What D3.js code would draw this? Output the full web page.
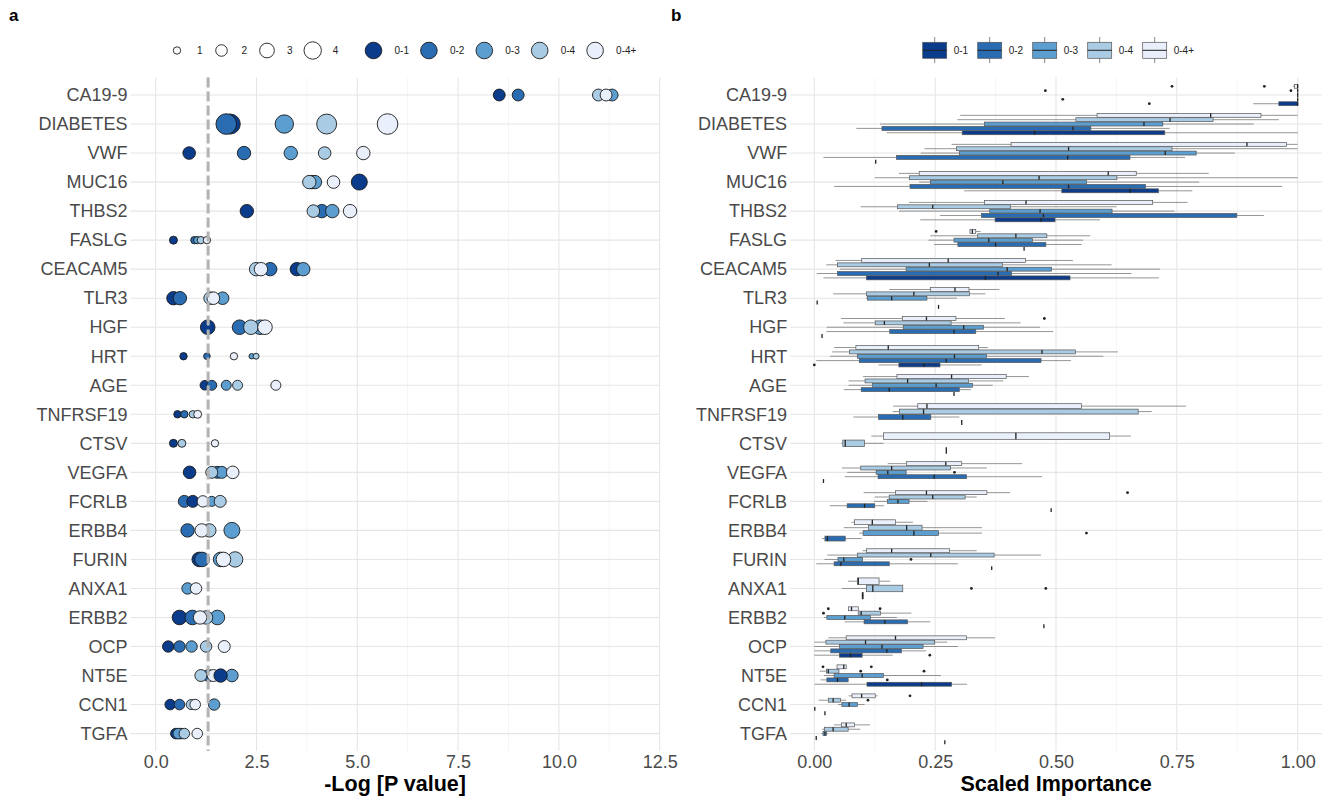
<!DOCTYPE html>
<html>
<head>
<meta charset="utf-8">
<script src="https://cdnjs.cloudflare.com/ajax/libs/d3/7.8.5/d3.min.js"></script>
<style>
  body { margin: 0; background: #fff; }
  svg { font-family: "Liberation Sans", Arial, sans-serif; }
</style>
</head>
<body>
<script>
"use strict";

// ---- data ----
const genes = ["CA19-9", "DIABETES", "VWF", "MUC16", "THBS2", "FASLG", "CEACAM5", "TLR3", "HGF", "HRT",
  "AGE", "TNFRSF19", "CTSV", "VEGFA", "FCRLB", "ERBB4", "FURIN", "ANXA1", "ERBB2", "OCP", "NT5E", "CCN1", "TGFA"];
const groups = ["0-1", "0-2", "0-3", "0-4", "0-4+"];
const groupColors = ["#0b3c8b", "#2a6cb2", "#5b9ecf", "#a9cbe3", "#e9effb"];
const sizeBreaks = [1, 2, 3, 4];
const pTicks = [0, 2.5, 5, 7.5, 10, 12.5];
const impTicks = [0, 0.25, 0.5, 0.75, 1];
const pCutoff = 1.301; // -log10(0.05)

// panel a: gene, group, -log p, point size
const pointRows = [
  ["CA19-9", "0-1", 8.52, 2.1], ["CA19-9", "0-2", 8.99, 2.1], ["CA19-9", "0-3", 11.32, 2.1], ["CA19-9", "0-4", 10.98, 2.1], ["CA19-9", "0-4+", 11.17, 2.1],
  ["DIABETES", "0-1", 1.85, 5.1], ["DIABETES", "0-2", 1.75, 5.4], ["DIABETES", "0-3", 3.19, 4.4], ["DIABETES", "0-4", 4.24, 5.1], ["DIABETES", "0-4+", 5.75, 5.4],
  ["VWF", "0-1", 0.83, 2.3], ["VWF", "0-2", 2.19, 2.56], ["VWF", "0-3", 3.35, 2.56], ["VWF", "0-4", 4.19, 2.3], ["VWF", "0-4+", 5.15, 2.56],
  ["MUC16", "0-1", 5.05, 3.46], ["MUC16", "0-2", 3.87, 2.56], ["MUC16", "0-3", 3.95, 2.56], ["MUC16", "0-4", 3.81, 2.56], ["MUC16", "0-4+", 4.41, 2.31],
  ["THBS2", "0-1", 2.26, 2.56], ["THBS2", "0-2", 4.12, 2.56], ["THBS2", "0-3", 4.38, 2.56], ["THBS2", "0-4", 3.91, 2.31], ["THBS2", "0-4+", 4.82, 2.56],
  ["FASLG", "0-1", 0.44, 1.12], ["FASLG", "0-2", 0.96, 1.0], ["FASLG", "0-3", 1.03, 1.0], ["FASLG", "0-4", 1.12, 1.0], ["FASLG", "0-4+", 1.27, 1.0],
  ["CEACAM5", "0-1", 3.50, 2.56], ["CEACAM5", "0-2", 2.84, 2.56], ["CEACAM5", "0-3", 3.66, 2.56], ["CEACAM5", "0-4", 2.49, 2.56], ["CEACAM5", "0-4+", 2.61, 2.56],
  ["TLR3", "0-1", 0.44, 2.56], ["TLR3", "0-2", 0.60, 2.56], ["TLR3", "0-3", 1.66, 2.31], ["TLR3", "0-4", 1.35, 2.31], ["TLR3", "0-4+", 1.43, 2.31],
  ["HGF", "0-1", 1.29, 2.96], ["HGF", "0-2", 2.08, 2.96], ["HGF", "0-3", 2.59, 2.96], ["HGF", "0-4", 2.36, 2.96], ["HGF", "0-4+", 2.71, 2.96],
  ["HRT", "0-1", 0.69, 1.0], ["HRT", "0-2", 1.27, 0.85], ["HRT", "0-3", 2.38, 0.64], ["HRT", "0-4", 2.49, 0.74], ["HRT", "0-4+", 1.94, 1.0],
  ["AGE", "0-1", 1.22, 1.5], ["AGE", "0-2", 1.39, 1.59], ["AGE", "0-3", 1.75, 1.59], ["AGE", "0-4", 2.03, 1.59], ["AGE", "0-4+", 2.98, 1.59],
  ["TNFRSF19", "0-1", 0.54, 1.0], ["TNFRSF19", "0-2", 0.71, 1.0], ["TNFRSF19", "0-4", 0.92, 1.0], ["TNFRSF19", "0-4+", 1.04, 1.12],
  ["CTSV", "0-1", 0.44, 1.12], ["CTSV", "0-4", 0.65, 1.12], ["CTSV", "0-4+", 1.47, 1.0],
  ["VEGFA", "0-1", 0.84, 2.31], ["VEGFA", "0-2", 1.53, 2.13], ["VEGFA", "0-3", 1.64, 2.13], ["VEGFA", "0-4", 1.39, 2.13], ["VEGFA", "0-4+", 1.91, 2.31],
  ["FCRLB", "0-2", 0.71, 2.13], ["FCRLB", "0-1", 0.92, 2.13], ["FCRLB", "0-3", 1.39, 1.59], ["FCRLB", "0-4", 1.60, 2.13], ["FCRLB", "0-4+", 1.17, 1.96],
  ["ERBB4", "0-2", 0.79, 2.56], ["ERBB4", "0-3", 1.89, 3.46], ["ERBB4", "0-4", 1.33, 2.56], ["ERBB4", "0-4+", 1.14, 2.56],
  ["FURIN", "0-1", 1.08, 2.96], ["FURIN", "0-2", 1.15, 2.96], ["FURIN", "0-3", 1.61, 2.96], ["FURIN", "0-4", 1.97, 3.24], ["FURIN", "0-4+", 1.68, 2.96],
  ["ANXA1", "0-3", 0.79, 1.96], ["ANXA1", "0-4+", 1.00, 1.96],
  ["ERBB2", "0-1", 0.59, 2.96], ["ERBB2", "0-2", 0.91, 2.96], ["ERBB2", "0-3", 1.53, 2.96], ["ERBB2", "0-4", 1.25, 2.56], ["ERBB2", "0-4+", 1.10, 2.56],
  ["OCP", "0-1", 0.31, 1.96], ["OCP", "0-2", 0.59, 1.96], ["OCP", "0-3", 0.89, 1.96], ["OCP", "0-4", 1.25, 1.96], ["OCP", "0-4+", 1.70, 2.13],
  ["NT5E", "0-2", 1.31, 2.13], ["NT5E", "0-3", 1.89, 2.31], ["NT5E", "0-4", 1.12, 2.13], ["NT5E", "0-4+", 1.43, 2.13], ["NT5E", "0-1", 1.61, 2.56],
  ["CCN1", "0-1", 0.36, 1.74], ["CCN1", "0-2", 0.59, 1.74], ["CCN1", "0-3", 1.45, 1.96], ["CCN1", "0-4", 0.88, 1.59], ["CCN1", "0-4+", 0.98, 1.74],
  ["TGFA", "0-1", 0.50, 1.74], ["TGFA", "0-2", 0.62, 1.74], ["TGFA", "0-3", 0.56, 1.74], ["TGFA", "0-4", 0.71, 1.74], ["TGFA", "0-4+", 1.03, 1.74]
];

// panel b: gene, group, lower whisker, q1, median, q3, upper whisker, outliers
const boxRows = [
  ["CA19-9", "0-1", 0.908, 0.961, 1.0, 1.0, 1.0, [0.693]],
  ["CA19-9", "0-2", 1, 1, 1, 1, 1, [0.514]],
  ["CA19-9", "0-3", 1, 1, 1, 1, 1, []],
  ["CA19-9", "0-4", 1, 1, 1, 1, 1, [0.478, 0.986]],
  ["CA19-9", "0-4+", 0.99, 0.993, 1.0, 1.0, 1.0, [0.740, 0.931]],
  ["DIABETES", "0-1", 0.150, 0.306, 0.456, 0.725, 1.0, []],
  ["DIABETES", "0-2", 0.087, 0.140, 0.535, 0.572, 0.735, []],
  ["DIABETES", "0-3", 0.136, 0.352, 0.682, 0.721, 0.909, []],
  ["DIABETES", "0-4", 0.296, 0.541, 0.736, 0.825, 0.961, []],
  ["DIABETES", "0-4+", 0.302, 0.585, 0.820, 0.924, 1.0, []],
  ["VWF", "0-1", 0.127, 0.127, 0.127, 0.127, 0.127, []],
  ["VWF", "0-2", 0.019, 0.170, 0.524, 0.653, 0.767, []],
  ["VWF", "0-3", 0.220, 0.300, 0.726, 0.790, 0.870, []],
  ["VWF", "0-4", 0.228, 0.294, 0.526, 0.740, 1.0, []],
  ["VWF", "0-4+", 0.284, 0.407, 0.895, 0.977, 1.0, []],
  ["MUC16", "0-1", 0.310, 0.512, 0.653, 0.712, 0.782, []],
  ["MUC16", "0-2", 0.041, 0.198, 0.526, 0.685, 0.968, []],
  ["MUC16", "0-3", 0.217, 0.240, 0.390, 0.563, 0.796, []],
  ["MUC16", "0-4", 0.125, 0.197, 0.465, 0.626, 1.0, []],
  ["MUC16", "0-4+", 0.175, 0.217, 0.608, 0.666, 0.816, []],
  ["THBS2", "0-1", 0.219, 0.374, 0.469, 0.498, 0.591, []],
  ["THBS2", "0-2", 0.260, 0.346, 0.474, 0.874, 0.930, []],
  ["THBS2", "0-3", 0.175, 0.363, 0.467, 0.616, 0.745, []],
  ["THBS2", "0-4", 0.096, 0.172, 0.245, 0.406, 0.625, []],
  ["THBS2", "0-4+", 0.196, 0.352, 0.438, 0.700, 0.772, []],
  ["FASLG", "0-1", 0.434, 0.434, 0.434, 0.434, 0.434, []],
  ["FASLG", "0-2", 0.248, 0.297, 0.375, 0.479, 0.553, []],
  ["FASLG", "0-3", 0.236, 0.289, 0.361, 0.451, 0.556, []],
  ["FASLG", "0-4", 0.240, 0.338, 0.417, 0.481, 0.571, []],
  ["FASLG", "0-4+", 0.322, 0.322, 0.327, 0.334, 0.344, [0.252]],
  ["CEACAM5", "0-1", 0.019, 0.108, 0.354, 0.529, 0.713, []],
  ["CEACAM5", "0-2", 0.005, 0.048, 0.380, 0.408, 0.656, []],
  ["CEACAM5", "0-3", 0.053, 0.190, 0.399, 0.491, 0.715, []],
  ["CEACAM5", "0-4", 0.025, 0.048, 0.238, 0.389, 0.615, []],
  ["CEACAM5", "0-4+", 0.044, 0.098, 0.277, 0.437, 0.535, []],
  ["TLR3", "0-1", 0.257, 0.257, 0.257, 0.257, 0.257, []],
  ["TLR3", "0-2", 0.006, 0.006, 0.006, 0.006, 0.006, []],
  ["TLR3", "0-3", 0.107, 0.110, 0.160, 0.233, 0.295, []],
  ["TLR3", "0-4", 0.039, 0.108, 0.206, 0.321, 0.354, []],
  ["TLR3", "0-4+", 0.155, 0.240, 0.291, 0.320, 0.383, []],
  ["HGF", "0-1", 0.016, 0.016, 0.016, 0.016, 0.016, []],
  ["HGF", "0-2", 0.025, 0.156, 0.289, 0.334, 0.494, []],
  ["HGF", "0-3", 0.026, 0.184, 0.309, 0.350, 0.467, []],
  ["HGF", "0-4", 0.060, 0.126, 0.145, 0.283, 0.427, []],
  ["HGF", "0-4+", 0.055, 0.182, 0.232, 0.293, 0.394, [0.476]],
  ["HRT", "0-1", 0.133, 0.175, 0.227, 0.260, 0.346, [0.0]],
  ["HRT", "0-2", 0.004, 0.093, 0.273, 0.469, 0.531, []],
  ["HRT", "0-3", 0.032, 0.089, 0.290, 0.356, 0.598, []],
  ["HRT", "0-4", 0.037, 0.073, 0.471, 0.540, 0.628, []],
  ["HRT", "0-4+", 0.041, 0.086, 0.153, 0.340, 0.359, []],
  ["AGE", "0-1", 0.289, 0.289, 0.289, 0.289, 0.289, []],
  ["AGE", "0-2", 0.061, 0.097, 0.155, 0.300, 0.324, []],
  ["AGE", "0-3", 0.071, 0.120, 0.252, 0.327, 0.369, []],
  ["AGE", "0-4", 0.071, 0.105, 0.193, 0.319, 0.391, []],
  ["AGE", "0-4+", 0.101, 0.171, 0.284, 0.397, 0.444, []],
  ["TNFRSF19", "0-1", 0.305, 0.305, 0.305, 0.305, 0.305, []],
  ["TNFRSF19", "0-2", 0.081, 0.133, 0.183, 0.241, 0.300, []],
  ["TNFRSF19", "0-4", 0.162, 0.176, 0.226, 0.670, 0.698, []],
  ["TNFRSF19", "0-4+", 0.163, 0.214, 0.233, 0.553, 0.769, []],
  ["CTSV", "0-1", 0.273, 0.273, 0.273, 0.273, 0.273, []],
  ["CTSV", "0-4", 0.056, 0.059, 0.064, 0.104, 0.143, []],
  ["CTSV", "0-4+", 0.118, 0.143, 0.417, 0.611, 0.655, []],
  ["VEGFA", "0-1", 0.019, 0.019, 0.019, 0.019, 0.019, []],
  ["VEGFA", "0-2", 0.063, 0.132, 0.248, 0.315, 0.471, []],
  ["VEGFA", "0-3", 0.068, 0.128, 0.152, 0.190, 0.190, [0.290]],
  ["VEGFA", "0-4", 0.057, 0.096, 0.160, 0.282, 0.357, []],
  ["VEGFA", "0-4+", 0.152, 0.191, 0.272, 0.305, 0.430, []],
  ["FCRLB", "0-1", 0.490, 0.490, 0.490, 0.490, 0.490, []],
  ["FCRLB", "0-2", 0.032, 0.068, 0.104, 0.125, 0.144, []],
  ["FCRLB", "0-3", 0.123, 0.151, 0.173, 0.196, 0.234, []],
  ["FCRLB", "0-4", 0.125, 0.155, 0.245, 0.312, 0.336, []],
  ["FCRLB", "0-4+", 0.102, 0.168, 0.232, 0.357, 0.405, [0.648]],
  ["ERBB4", "0-2", 0.016, 0.022, 0.027, 0.064, 0.098, []],
  ["ERBB4", "0-3", 0.093, 0.101, 0.206, 0.257, 0.347, [0.563]],
  ["ERBB4", "0-4", 0.061, 0.112, 0.191, 0.223, 0.347, []],
  ["ERBB4", "0-4+", 0.077, 0.083, 0.120, 0.168, 0.204, []],
  ["FURIN", "0-1", 0.367, 0.367, 0.367, 0.367, 0.367, []],
  ["FURIN", "0-2", 0.004, 0.041, 0.055, 0.155, 0.297, []],
  ["FURIN", "0-3", 0.021, 0.049, 0.061, 0.100, 0.100, [0.200]],
  ["FURIN", "0-4", 0.027, 0.089, 0.241, 0.372, 0.469, []],
  ["FURIN", "0-4+", 0.100, 0.108, 0.160, 0.280, 0.336, []],
  ["ANXA1", "0-3", 0.098, 0.099, 0.100, 0.101, 0.102, []],
  ["ANXA1", "0-4", 0.057, 0.108, 0.121, 0.183, 0.183, [0.325, 0.479]],
  ["ANXA1", "0-4+", 0.070, 0.089, 0.091, 0.134, 0.157, []],
  ["ERBB2", "0-1", 0.475, 0.475, 0.475, 0.475, 0.475, []],
  ["ERBB2", "0-2", 0.063, 0.103, 0.146, 0.193, 0.240, []],
  ["ERBB2", "0-3", 0.020, 0.026, 0.063, 0.116, 0.171, []],
  ["ERBB2", "0-4", 0.089, 0.092, 0.097, 0.137, 0.201, [0.019]],
  ["ERBB2", "0-4+", 0.071, 0.071, 0.077, 0.091, 0.091, [0.029, 0.136]],
  ["OCP", "0-1", 0.0, 0.052, 0.075, 0.099, 0.162, [0.239]],
  ["OCP", "0-2", 0.0, 0.034, 0.150, 0.180, 0.231, []],
  ["OCP", "0-3", 0.0, 0.052, 0.140, 0.225, 0.297, []],
  ["OCP", "0-4", 0.0, 0.024, 0.106, 0.249, 0.275, []],
  ["OCP", "0-4+", 0.029, 0.066, 0.168, 0.315, 0.374, []],
  ["NT5E", "0-1", 0.001, 0.109, 0.222, 0.284, 0.316, []],
  ["NT5E", "0-2", 0.013, 0.026, 0.048, 0.070, 0.070, [0.151]],
  ["NT5E", "0-3", 0.020, 0.041, 0.099, 0.143, 0.262, []],
  ["NT5E", "0-4", 0.011, 0.025, 0.029, 0.051, 0.051, [0.096, 0.227]],
  ["NT5E", "0-4+", 0.047, 0.047, 0.061, 0.066, 0.066, [0.018, 0.118]],
  ["CCN1", "0-1", 0.022, 0.022, 0.022, 0.022, 0.022, []],
  ["CCN1", "0-2", 0.001, 0.001, 0.001, 0.001, 0.001, []],
  ["CCN1", "0-3", 0.049, 0.057, 0.072, 0.089, 0.104, []],
  ["CCN1", "0-4", 0.009, 0.029, 0.039, 0.054, 0.066, [0.111]],
  ["CCN1", "0-4+", 0.071, 0.078, 0.098, 0.126, 0.131, [0.198]],
  ["TGFA", "0-1", 0.270, 0.270, 0.270, 0.270, 0.270, []],
  ["TGFA", "0-2", 0.004, 0.004, 0.004, 0.004, 0.004, []],
  ["TGFA", "0-3", 0.015, 0.018, 0.022, 0.025, 0.028, []],
  ["TGFA", "0-4", 0.016, 0.021, 0.039, 0.070, 0.095, []],
  ["TGFA", "0-4+", 0.041, 0.056, 0.066, 0.083, 0.115, []]
];

// ---- layout ----
const W = 1328, H = 796;
const plotTop = 77.6, plotBottom = 751;

const svg = d3.select("body").append("svg")
  .attr("width", W).attr("height", H);

const color = d3.scaleOrdinal().domain(groups).range(groupColors);
const y = d3.scalePoint().domain(genes).range([plotTop, plotBottom]).padding(0.6);
const step = y.step();

const xA = d3.scaleLinear().domain([0, 12.5]).range([155.7, 659.7]);
const xB = d3.scaleLinear().domain([0, 1]).range([814.3, 1297.7]);
const rScale = d3.scalePow().exponent(0.5).domain([1, 4]).range([3.7, 8.7]);

// panel labels
svg.append("text").attr("x", 9).attr("y", 21).attr("font-size", 17).attr("font-weight", "bold").text("a");
svg.append("text").attr("x", 671).attr("y", 21).attr("font-size", 17).attr("font-weight", "bold").text("b");

function grid(x, lo, hi, majors, minors) {
  let g = svg.append("g");
  g.selectAll(".minor").data(minors).enter().append("line")
    .attr("x1", d => x(d)).attr("x2", d => x(d))
    .attr("y1", plotTop).attr("y2", plotBottom)
    .attr("stroke", "#f0f0f0").attr("stroke-width", 0.7);
  g.selectAll(".major").data(majors).enter().append("line")
    .attr("x1", d => x(d)).attr("x2", d => x(d))
    .attr("y1", plotTop).attr("y2", plotBottom)
    .attr("stroke", "#e6e6e6").attr("stroke-width", 1.1);
  g.selectAll(".row").data(genes).enter().append("line")
    .attr("x1", x(lo)).attr("x2", x(hi))
    .attr("y1", d => y(d)).attr("y2", d => y(d))
    .attr("stroke", "#e6e6e6").attr("stroke-width", 1.1);
}

function axes(x, lo, hi, ticks, fmt, title) {
  let ax = svg.append("g")
    .attr("transform", "translate(0," + plotBottom + ")")
    .call(d3.axisBottom(x).tickValues(ticks).tickFormat(d3.format(fmt)).tickSize(0).tickPadding(4.5));
  ax.select(".domain").remove();
  ax.attr("font-family", null).attr("font-size", null);
  ax.selectAll("text").attr("font-size", 18).attr("fill", "#4a4a4a");

  let ay = svg.append("g")
    .attr("transform", "translate(" + x(lo) + ",0)")
    .call(d3.axisLeft(y).tickSize(0).tickPadding(3));
  ay.select(".domain").remove();
  ay.attr("font-family", null).attr("font-size", null);
  ay.selectAll("text").attr("font-size", 18).attr("fill", "#4a4a4a");

  svg.append("text")
    .attr("x", (x(lo) + x(hi)) / 2).attr("y", 791)
    .attr("text-anchor", "middle").attr("font-size", 21.5).attr("font-weight", "bold")
    .text(title);
}

// ---- panel a ----
grid(xA, -0.625, 12.5, pTicks, [1.25, 3.75, 6.25, 8.75, 11.25]);
axes(xA, -0.625, 12.5, pTicks, ".1f", "-Log [P value]");

svg.append("g").selectAll("circle")
  .data(pointRows).enter().append("circle")
  .attr("cx", d => xA(d[2]))
  .attr("cy", d => y(d[0]))
  .attr("r", d => rScale(d[3]))
  .attr("fill", d => color(d[1]))
  .attr("stroke", "#1a1a1a").attr("stroke-width", 0.9);

svg.append("line")
  .attr("x1", xA(pCutoff)).attr("x2", xA(pCutoff))
  .attr("y1", plotTop).attr("y2", plotBottom)
  .attr("stroke", "#b3b3b3").attr("stroke-width", 3)
  .attr("stroke-dasharray", "10,4");

// panel a legend
let legA = svg.append("g").attr("font-size", 10).attr("fill", "#222");
let sizeX = [177, 221.5, 267, 312.7];
sizeBreaks.forEach(function(s, i) {
  legA.append("circle").attr("cx", sizeX[i]).attr("cy", 50.5).attr("r", rScale(s))
    .attr("fill", "#fff").attr("stroke", "#1a1a1a").attr("stroke-width", 0.9);
  legA.append("text").attr("x", sizeX[i] + 20).attr("y", 54).text(s);
});
groups.forEach(function(g, i) {
  let cx = 373.5 + i * 55.4;
  legA.append("circle").attr("cx", cx).attr("cy", 50.5).attr("r", 8.3)
    .attr("fill", color(g)).attr("stroke", "#1a1a1a").attr("stroke-width", 0.9);
  legA.append("text").attr("x", cx + 21).attr("y", 54).text(g);
});

// ---- panel b ----
grid(xB, -0.05, 1.05, impTicks, [0.125, 0.375, 0.625, 0.875]);
axes(xB, -0.05, 1.05, impTicks, ".2f", "Scaled Importance");

// dodge boxes within each gene by the groups that are present
let boxes = boxRows.map(function(d) {
  let present = boxRows.filter(e => e[0] === d[0]).map(e => groups.indexOf(e[1])).sort();
  let n = present.length;
  let slot = 0.75 * step / n;
  let k = present.indexOf(groups.indexOf(d[1]));
  return { gene: d[0], group: d[1], lo: d[2], q1: d[3], med: d[4], q3: d[5], hi: d[6], out: d[7],
           cy: y(d[0]) + ((n - 1) / 2 - k) * slot, h: slot * 0.9 };
});

let bg = svg.append("g");
boxes.forEach(function(b) {
  let g = bg.append("g");
  g.append("line").attr("x1", xB(b.lo)).attr("x2", xB(b.q1)).attr("y1", b.cy).attr("y2", b.cy)
    .attr("stroke", "#7a7a7a").attr("stroke-width", 0.8);
  g.append("line").attr("x1", xB(b.q3)).attr("x2", xB(b.hi)).attr("y1", b.cy).attr("y2", b.cy)
    .attr("stroke", "#7a7a7a").attr("stroke-width", 0.8);
  g.append("rect").attr("x", xB(b.q1)).attr("y", b.cy - b.h / 2)
    .attr("width", Math.max(xB(b.q3) - xB(b.q1), 0)).attr("height", b.h)
    .attr("fill", color(b.group)).attr("stroke", "#555").attr("stroke-width", 0.7);
  g.append("line").attr("x1", xB(b.med)).attr("x2", xB(b.med))
    .attr("y1", b.cy - b.h / 2).attr("y2", b.cy + b.h / 2)
    .attr("stroke", "#222").attr("stroke-width", 1.3);
  g.selectAll("circle").data(b.out).enter().append("circle")
    .attr("cx", d => xB(d)).attr("cy", b.cy).attr("r", 1.4).attr("fill", "#222");
});

// panel b legend
let legB = svg.append("g").attr("font-size", 10).attr("fill", "#222");
groups.forEach(function(g, i) {
  let x0 = 922.7 + i * 55;
  legB.append("line").attr("x1", x0 + 12).attr("x2", x0 + 12).attr("y1", 37).attr("y2", 63)
    .attr("stroke", "#666").attr("stroke-width", 0.8);
  legB.append("rect").attr("x", x0).attr("y", 42.3).attr("width", 24).attr("height", 16)
    .attr("fill", color(g)).attr("stroke", "#555").attr("stroke-width", 0.7);
  legB.append("line").attr("x1", x0).attr("x2", x0 + 24).attr("y1", 50.3).attr("y2", 50.3)
    .attr("stroke", "#222").attr("stroke-width", 1);
  legB.append("text").attr("x", x0 + 31).attr("y", 53.8).text(g);
});
</script>
</body>
</html>
